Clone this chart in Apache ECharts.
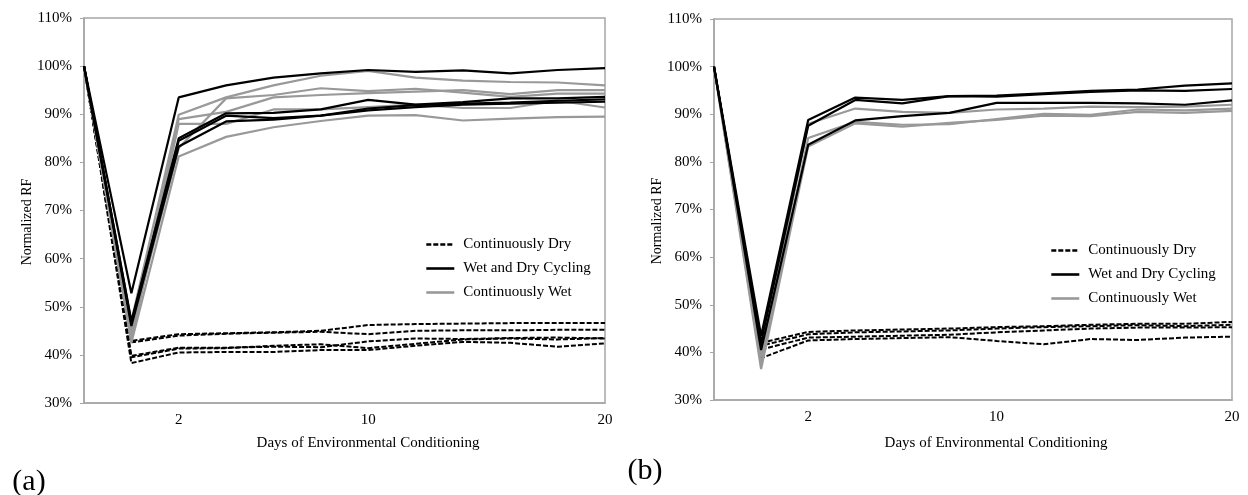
<!DOCTYPE html>
<html>
<head>
<meta charset="utf-8">
<script src="https://cdn.jsdelivr.net/npm/echarts@6/dist/echarts.min.js"></script>
<style>
  html, body { margin: 0; padding: 0; background: #fff; }
  #chart { width: 1248px; height: 495px; }
</style>
</head>
<body>
<div id="chart"></div>
<script>
// days on the category axis, only some of them are labelled
const days = ['0', '1', '2', '4', '6', '8', '10', '12', '14', '16', '18', '20'];
const shownDays = ['2', '10', '20'];
const names = ['Continuously Dry', 'Wet and Dry Cycling', 'Continuously Wet'];

// (a) normalized RF in %
const aDry = [
  [100, 42.9, 44.3, 44.5, 44.7, 45.0, 46.2, 46.4, 46.5, 46.6, 46.6, 46.6],
  [100, 42.6, 44.0, 44.4, 44.6, 44.8, 44.3, 45.0, 45.1, 45.1, 45.2, 45.2],
  [100, 39.8, 41.5, 41.5, 41.7, 41.6, 42.8, 43.4, 43.3, 43.5, 43.6, 43.4],
  [100, 39.5, 41.3, 41.4, 41.9, 42.2, 41.4, 42.3, 43.2, 43.4, 43.2, 43.5],
  [100, 38.3, 40.5, 40.6, 40.6, 41.0, 41.0, 41.9, 42.7, 42.5, 41.7, 42.4]
];
const aCycle = [
  [100, 52.8, 93.5, 96.0, 97.6, 98.5, 99.2, 98.8, 99.1, 98.5, 99.2, 99.6],
  [100, 47.0, 85.0, 90.2, 90.3, 91.0, 93.0, 92.0, 92.5, 93.3, 93.3, 93.6],
  [100, 46.6, 84.5, 89.7, 89.2, 89.7, 91.2, 91.9, 92.2, 92.4, 92.8, 93.1],
  [100, 46.0, 83.3, 88.5, 88.9, 89.7, 90.8, 91.5, 92.0, 92.2, 92.4, 92.6]
];
const aWet = [
  [100, 47.0, 89.9, 93.5, 96.0, 98.0, 99.0, 97.6, 97.0, 96.7, 96.6, 96.0],
  [100, 45.0, 83.0, 93.3, 94.0, 95.4, 94.8, 95.3, 94.5, 93.6, 94.3, 94.3],
  [100, 44.0, 89.0, 90.5, 93.5, 94.0, 94.4, 94.7, 95.0, 94.2, 95.0, 95.0],
  [100, 43.0, 88.0, 88.0, 91.0, 91.0, 91.5, 92.0, 91.3, 91.3, 92.8, 91.4],
  [100, 42.5, 81.2, 85.3, 87.3, 88.6, 89.7, 89.8, 88.7, 89.1, 89.4, 89.5]
];

// (b)
const bDry = [
  [100, 42.0, 44.3, 44.6, 44.8, 45.0, 45.3, 45.5, 45.8, 46.0, 46.0, 46.4],
  [100, 41.4, 43.8, 44.2, 44.4, 44.6, 45.0, 45.3, 45.5, 45.7, 45.5, 45.8],
  [100, 40.6, 43.1, 43.3, 43.5, 43.7, 44.2, 44.6, 45.0, 45.2, 45.2, 45.3],
  [100, 38.8, 42.5, 42.8, 43.0, 43.2, 42.4, 41.7, 42.8, 42.6, 43.1, 43.3]
];
const bCycle = [
  [100, 43.5, 88.8, 93.5, 93.0, 93.8, 93.9, 94.4, 94.9, 95.2, 96.0, 96.5],
  [100, 42.0, 87.6, 93.0, 92.3, 93.8, 93.7, 94.2, 94.7, 95.0, 94.9, 95.3],
  [100, 40.5, 83.6, 88.7, 89.6, 90.3, 92.4, 92.4, 92.4, 92.3, 92.0, 92.9]
];
const bWet = [
  [100, 39.0, 88.0, 91.2, 90.5, 90.3, 91.0, 91.2, 91.6, 91.5, 91.6, 92.0],
  [100, 37.5, 85.0, 88.4, 87.8, 87.9, 89.0, 90.1, 89.9, 91.0, 90.8, 91.2],
  [100, 36.5, 83.2, 88.1, 87.4, 88.2, 88.8, 89.7, 89.6, 90.5, 90.3, 90.7]
];

const font = '"Liberation Serif", "Times New Roman", serif';
const axisGray = '#a6a6a6';

const styles = [
  { color: '#000', width: 2, type: [5, 2] },
  { color: '#000', width: 2.2, type: 'solid' },
  { color: '#999', width: 2.2, type: 'solid' }
];

function lines(groups, idx) {
  let out = [];
  // dry first, then wet, cycling on top
  [0, 2, 1].forEach(function (k) {
    groups[k].forEach(function (d) {
      out.push({
        name: names[k],
        type: 'line',
        xAxisIndex: idx,
        yAxisIndex: idx,
        data: d,
        symbol: 'none',
        animation: false,
        lineStyle: styles[k],
        itemStyle: { color: styles[k].color }
      });
    });
  });
  return out;
}

function xAx(gi) {
  return {
    type: 'category',
    gridIndex: gi,
    data: days,
    boundaryGap: false,
    axisLine: { lineStyle: { color: axisGray, width: 1.5 } },
    axisTick: { show: false },
    axisLabel: {
      interval: function (i, v) { return shownDays.indexOf(v) >= 0; },
      color: '#000', fontFamily: font, fontSize: 15, margin: 10
    }
  };
}

function yAx(gi) {
  return {
    type: 'value',
    gridIndex: gi,
    min: 30, max: 110, interval: 10,
    axisLine: { show: true, lineStyle: { color: axisGray, width: 1.5 } },
    axisTick: { show: true, length: 4, lineStyle: { color: axisGray } },
    splitLine: { show: false },
    axisLabel: { formatter: '{value}%', color: '#000', fontFamily: font, fontSize: 15, margin: 12 }
  };
}

function legend(left, top) {
  return {
    data: names,
    orient: 'vertical',
    left: left, top: top,
    padding: 0,
    itemWidth: 28, itemHeight: 15, itemGap: 9,
    selectedMode: false,
    itemStyle: { opacity: 0 },
    lineStyle: { width: 2.6 },
    textStyle: { color: '#000', fontFamily: font, fontSize: 15, padding: [0, 0, 0, 4] }
  };
}

function txt(x, y, s, size, rot) {
  return {
    type: 'text', x: x, y: y, rotation: rot || 0,
    style: { text: s, fontFamily: font, fontSize: size, fill: '#000', align: 'center', verticalAlign: 'middle' }
  };
}

let chart = echarts.init(document.getElementById('chart'));
chart.setOption({
  animation: false,
  grid: [
    { left: 84, top: 18, width: 521, height: 385, show: true, borderColor: axisGray, borderWidth: 1.5 },
    { left: 714, top: 19, width: 518, height: 381, show: true, borderColor: axisGray, borderWidth: 1.5 }
  ],
  xAxis: [xAx(0), xAx(1)],
  yAxis: [yAx(0), yAx(1)],
  legend: [legend(425, 237), legend(1050, 243)],
  series: lines([aDry, aCycle, aWet], 0).concat(lines([bDry, bCycle, bWet], 1)),
  graphic: [
    txt(27, 222, 'Normalized RF', 14, Math.PI / 2),
    txt(657, 221, 'Normalized RF', 14, Math.PI / 2),
    txt(368, 443, 'Days of Environmental Conditioning', 15),
    txt(996, 443, 'Days of Environmental Conditioning', 15),
    txt(29, 482, '(a)', 30),
    txt(645, 471, '(b)', 30)
  ]
});
</script>
</body>
</html>
